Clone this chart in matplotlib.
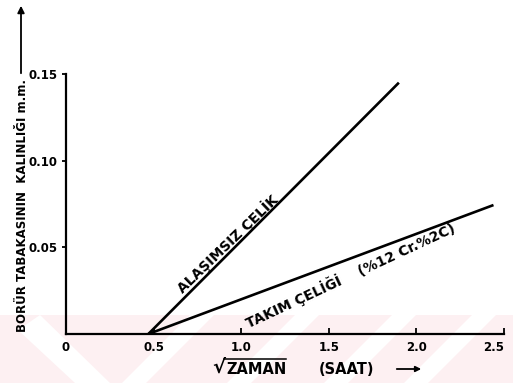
import matplotlib
matplotlib.use('Agg')
import matplotlib.pyplot as plt
from matplotlib.patches import Polygon, FancyArrowPatch
from matplotlib.lines import Line2D

# values
x_ticks = [0, 0.5, 1.0, 1.5, 2.0, 2.5]
x_tick_labels = ['0', '0.5', '1.0', '1.5', '2.0', '2.5']
y_ticks = [0.05, 0.10, 0.15]
y_tick_labels = ['0.05', '0.10', '0.15']

alasimsiz_x = [0.47, 1.90]
alasimsiz_y = [0.0, 0.145]
takim_x = [0.47, 2.44]
takim_y = [0.0, 0.0744]

W, H = 513, 383
plt.rcParams['font.family'] = 'DejaVu Sans'

fig = plt.figure(figsize=(W / 100, H / 100), dpi=100)


def fp(x, y):
    # figure pixel -> figure fraction
    return (x / W, 1 - y / H)


# faint pink watermark band at the bottom
pink = '#fdf0f2'
fig.patches.append(Polygon([fp(0, 315), fp(W, 315), fp(W, H), fp(0, H)],
                           closed=True, transform=fig.transFigure,
                           facecolor=pink, edgecolor='none', zorder=-5))
for x0 in [190, 295, 392, 472]:
    fig.patches.append(Polygon([fp(x0, 315), fp(x0 + 24, 315),
                                fp(x0 + 24 - 68, H), fp(x0 - 68, H)],
                               closed=True, transform=fig.transFigure,
                               facecolor='white', edgecolor='none', zorder=-4))
fig.patches.append(Polygon([fp(18, 330), fp(40, 315), fp(110, H), fp(75, H)],
                           closed=True, transform=fig.transFigure,
                           facecolor='white', edgecolor='none', zorder=-4))

ax = fig.add_axes([66 / W, (H - 334) / H, 438 / W, 260 / H])
ax.patch.set_alpha(0)

ax.plot(alasimsiz_x, alasimsiz_y, color='black', lw=1.9, solid_capstyle='butt')
ax.plot(takim_x, takim_y, color='black', lw=1.9, solid_capstyle='butt')

ax.set_xlim(0, 2.5)
ax.set_ylim(0, 0.15)
ax.set_xticks(x_ticks)
ax.set_xticklabels(x_tick_labels, fontsize=8.5, fontweight='bold')
ax.set_yticks(y_ticks)
ax.set_yticklabels(y_tick_labels, fontsize=8.5, fontweight='bold')
ax.tick_params(axis='x', direction='in', length=4, width=1.3, pad=5)
ax.tick_params(axis='y', direction='out', length=3, width=1.3, pad=3)
ax.get_xticklabels()[-1].set_horizontalalignment('right')

for s in ['top', 'right']:
    ax.spines[s].set_visible(False)
for s in ['left', 'bottom']:
    ax.spines[s].set_linewidth(1.6)

ax.text(0.92, 0.052, 'ALAŞIMSIZ ÇELİK', rotation=44, rotation_mode='anchor',
        ha='center', va='center', fontsize=10, fontweight='bold')
ax.text(1.62, 0.034, 'TAKIM ÇELİĞİ    (%12 Cr.%2C)', rotation=25,
        rotation_mode='anchor', ha='center', va='center',
        fontsize=10, fontweight='bold')

# axis titles with arrows
fig.text(*fp(23, 205), 'BORÜR TABAKASININ  KALINLIĞI m.m.', rotation=90,
         ha='center', va='center', fontsize=8.5, fontweight='bold')
fig.add_artist(FancyArrowPatch(fp(21, 76), fp(21, 3), transform=fig.transFigure,
                               arrowstyle='-|>', mutation_scale=10,
                               color='black', lw=1.3))

sq = fig.text(*fp(212, 367), '√', ha='left', va='center', fontsize=14,
              fontweight='bold')
zm = fig.text(*fp(226, 369), 'ZAMAN', ha='left', va='center', fontsize=10.5,
              fontweight='bold')
fig.text(*fp(347, 369), '(SAAT)', ha='center', va='center', fontsize=10.5,
         fontweight='bold')
fig.canvas.draw()
bb = zm.get_window_extent().transformed(fig.transFigure.inverted())
fig.add_artist(Line2D([bb.x0 - 2 / W, bb.x1], [bb.y1 + 3 / H, bb.y1 + 3 / H],
                      transform=fig.transFigure, color='black', lw=1.1))
fig.add_artist(FancyArrowPatch(fp(394, 369), fp(424, 369),
                               transform=fig.transFigure, arrowstyle='-|>',
                               mutation_scale=8, color='black', lw=1.3))

fig.savefig('out.png', dpi=100)
